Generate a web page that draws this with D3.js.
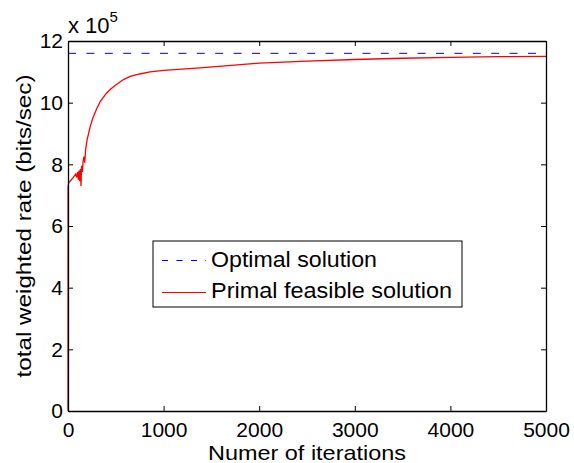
<meta charset="utf-8">
<style>
  body { margin: 0; background: #fff; }
  text { font-family: "Liberation Sans", Arial, sans-serif; }
</style>
<svg width="574" height="463"></svg>
<script src="https://d3js.org/d3.v7.min.js"></script>
<script>
// iterations and total weighted rate (x 10^5)
var iterations = [0, 1, 10, 20, 35, 50, 65, 80, 90, 100, 108, 115, 122, 130, 136, 142, 150, 158, 167, 175, 185, 200, 230, 260, 300, 335, 400, 450, 510, 580, 650, 750, 858, 1000, 1380, 2000, 2500, 3000, 3500, 4000, 4500, 5000];
var primalRate = [0, 7.3, 7.42, 7.45, 7.5, 7.55, 7.62, 7.68, 7.58, 7.75, 7.5, 7.8, 7.45, 7.85, 7.3, 7.95, 7.75, 8.1, 8.25, 8.05, 8.5, 8.8, 9.2, 9.5, 9.8, 10.03, 10.3, 10.45, 10.6, 10.75, 10.85, 10.93, 11.0, 11.05, 11.13, 11.28, 11.35, 11.4, 11.44, 11.47, 11.49, 11.5];
var optimalRate = 11.6;
var xTicks = [0, 1000, 2000, 3000, 4000, 5000];
var yTicks = [0, 2, 4, 6, 8, 10, 12];
var legendLabels = ["Optimal solution", "Primal feasible solution"];

var svg = d3.select("svg"),
    margin = {top: 41, right: 28, bottom: 52, left: 68},
    width = +svg.attr("width"),
    height = +svg.attr("height");

var x = d3.scaleLinear().domain([0, 5000]).range([margin.left, width - margin.right]);
var y = d3.scaleLinear().domain([0, 12]).range([height - margin.bottom, margin.top]);

var fs = "21px";

// optimal line
svg.append("line")
    .attr("x1", x(0)).attr("x2", x(5000))
    .attr("y1", y(optimalRate)).attr("y2", y(optimalRate))
    .attr("stroke", "#0000ff").attr("stroke-width", 1)
    .attr("stroke-dasharray", "8,10.4");

// primal line
var line = d3.line()
    .x(function(d, i) { return x(iterations[i]); })
    .y(function(d) { return y(d); });
svg.append("path")
    .datum(primalRate)
    .attr("fill", "none")
    .attr("stroke", "#ff0000")
    .attr("stroke-width", 1.3)
    .attr("d", line);

// axes with inward ticks
svg.append("g")
    .attr("transform", "translate(0," + y(0) + ")")
    .call(d3.axisBottom(x).tickValues(xTicks).tickFormat(d3.format("d")).tickSizeInner(-5).tickSizeOuter(0).tickPadding(11))
    .call(function(g) { g.selectAll("text").attr("font-size", fs).attr("fill", "#000"); });
svg.append("g")
    .attr("transform", "translate(0," + y(12) + ")")
    .call(d3.axisTop(x).tickValues(xTicks).tickSizeInner(-5).tickSizeOuter(0).tickFormat(""));
svg.append("g")
    .attr("transform", "translate(" + x(0) + ",0)")
    .call(d3.axisLeft(y).tickValues(yTicks).tickFormat(d3.format("d")).tickSizeInner(-5).tickSizeOuter(0).tickPadding(5))
    .call(function(g) { g.selectAll("text").attr("font-size", fs).attr("fill", "#000"); });
svg.append("g")
    .attr("transform", "translate(" + x(5000) + ",0)")
    .call(d3.axisRight(y).tickValues(yTicks).tickSizeInner(-5).tickSizeOuter(0).tickFormat(""));

svg.selectAll(".domain").attr("stroke", "#000").attr("stroke-width", 1.3);
svg.selectAll(".tick line").attr("stroke", "#000");

// exponent label
var ex = svg.append("text").attr("x", 68).attr("y", 33).attr("font-size", "22px");
ex.append("tspan").text("x 10");
ex.append("tspan").attr("dy", -11).attr("font-size", "15px").text("5");

// axis titles
svg.append("text")
    .attr("x", x(2500)).attr("y", 460)
    .attr("text-anchor", "middle").attr("font-size", fs)
    .attr("textLength", 198).attr("lengthAdjust", "spacingAndGlyphs")
    .text("Numer of iterations");
svg.append("text")
    .attr("transform", "translate(31," + y(6) + ") rotate(-90)")
    .attr("text-anchor", "middle").attr("font-size", fs)
    .attr("textLength", 303).attr("lengthAdjust", "spacingAndGlyphs")
    .text("total weighted rate (bits/sec)");

// legend
var lg = svg.append("g");
lg.append("rect")
    .attr("x", 153).attr("y", 241).attr("width", 309).attr("height", 66)
    .attr("fill", "#fff").attr("stroke", "#000").attr("stroke-width", 1);
var legendColors = ["#0000ff", "#ff0000"];
var legendDashes = ["6,8.5", "none"];
var legendWidths = [166, 241];
legendLabels.forEach(function(t, i) {
    var yy = 260 + i * 31.5;
    lg.append("line")
        .attr("x1", 162).attr("x2", 206)
        .attr("y1", Math.round(yy) + 0.5).attr("y2", Math.round(yy) + 0.5)
        .style("stroke", legendColors[i]).style("stroke-width", 1)
        .style("stroke-dasharray", legendDashes[i]);
    lg.append("text")
        .attr("x", 211).attr("y", yy + 6.5)
        .attr("font-size", "22px")
        .attr("textLength", legendWidths[i]).attr("lengthAdjust", "spacingAndGlyphs")
        .text(t);
});
</script>
